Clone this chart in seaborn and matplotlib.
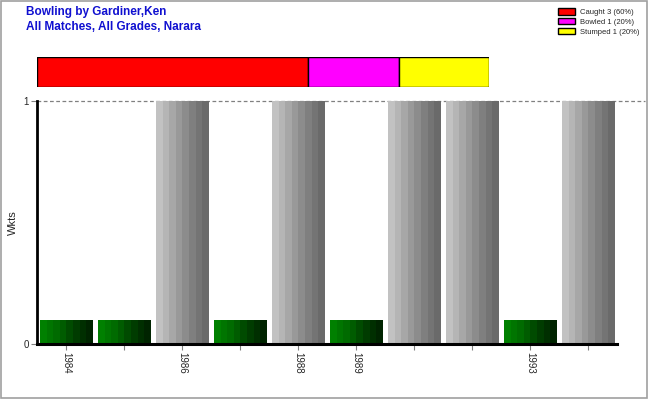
import matplotlib
matplotlib.use("Agg")
import matplotlib.pyplot as plt
import numpy as np
import pandas as pd
import seaborn as sns
from matplotlib.colors import LinearSegmentedColormap
from matplotlib.patches import Rectangle

# data
seasons = ["1984", "1985", "1986", "1987", "1988", "1989", "1990", "1991", "1993", "1994"]
tick_labels = ["1984", "", "1986", "", "1988", "1989", "", "", "1993", ""]
wkts = [0.1, 0.1, 1, 0.1, 1, 0.1, 1, 1, 0.1, 1]
dismissal_types = ["Caught", "Bowled", "Stumped"]
dismissal_counts = [3, 1, 1]
dismissal_colors = ["#ff0000", "#ff00ff", "#ffff00"]

sns.set_theme(style="white")
plt.rcParams["font.family"] = ["Liberation Sans", "DejaVu Sans"]

fig = plt.figure(figsize=(6.5, 4), dpi=100)
fig.patch.set_facecolor("white")
fig.add_artist(Rectangle((0.002, 0.004), 0.994, 0.994, transform=fig.transFigure,
                         fill=False, edgecolor="#a0a0a0", linewidth=1.2))

fig.text(26 / 650, 1 - 12 / 400, "Bowling by Gardiner,Ken", color="#1010d0",
         fontsize=8.5, fontweight="bold", va="center", ha="left")
fig.text(26 / 650, 1 - 27 / 400, "All Matches, All Grades, Narara", color="#1010d0",
         fontsize=8.5, fontweight="bold", va="center", ha="left")

# main bar chart
ax = fig.add_axes([37 / 650, 56 / 400, 580 / 650, 243 / 400])
df = pd.DataFrame({"season": seasons, "wkts": wkts})
sns.barplot(data=df, x="season", y="wkts", ax=ax, width=0.9, color="white",
            edgecolor="none", linewidth=0)

green_cmap = LinearSegmentedColormap.from_list("g", ["#008000", "#006800", "#004000", "#002400"])
grey_cmap = LinearSegmentedColormap.from_list("k", ["#c2c2c2", "#ababab", "#939393", "#7c7c7c", "#6a6a6a"])
grad = np.linspace(0, 1, 8).reshape(1, -1)
for patch, v in zip(ax.patches, wkts):
    x0, y0 = patch.get_x(), patch.get_y()
    w, h = patch.get_width(), patch.get_height()
    cmap = grey_cmap if v >= 1 else green_cmap
    im = ax.imshow(grad, cmap=cmap, aspect="auto", extent=(x0, x0 + w, y0, y0 + h),
                   interpolation="nearest", zorder=2)
    im.set_clip_path(patch)
ax.set_xlim(-0.5, len(seasons) - 0.5)
ax.set_ylim(0, 1)

ax.axhline(1, xmin=0, xmax=608 / 580, color="#808080", linestyle=(0, (3, 2)),
           linewidth=0.9, clip_on=False, zorder=1)
ax.axhline(0, color="#c8c8c8", linestyle=(0, (3, 2)), linewidth=0.8, zorder=1)

for side in ["top", "right"]:
    ax.spines[side].set_visible(False)
ax.spines["left"].set_linewidth(2)
ax.spines["bottom"].set_linewidth(2.2)
ax.spines["left"].set_color("black")
ax.spines["bottom"].set_color("black")

ax.set_yticks([0, 1])
ax.set_yticklabels(["0", "1"], fontsize=7)
ax.set_xticks(range(len(seasons)))
ax.set_xticklabels(tick_labels, rotation=-90, fontsize=7)
ax.tick_params(axis="both", length=4, width=0.8, color="#808080", direction="out",
               bottom=True, left=True, pad=2)
ax.set_xlabel("")
ax.set_ylabel("Wkts", fontsize=8)
ax.yaxis.set_label_coords(-19 / 580, 0.5)

# dismissal breakdown bar
bx = fig.add_axes([37 / 650, 1 - 87 / 400, 452 / 650, 30 / 400])
lefts = np.concatenate([[0], np.cumsum(dismissal_counts)[:-1]])
total = sum(dismissal_counts)
labels = [f"{t} {c} ({c / total:.0%})" for t, c in zip(dismissal_types, dismissal_counts)]
for lft, c, col, lab in zip(lefts, dismissal_counts, dismissal_colors, labels):
    bx.barh(0, c, left=lft, color=col, edgecolor="black", linewidth=1, height=1, label=lab)
bx.set_xlim(0, total)
bx.set_ylim(-0.5, 0.5)
bx.axis("off")

handles, leg_labels = bx.get_legend_handles_labels()
fig.legend(handles, leg_labels, loc="upper left", bbox_to_anchor=(553 / 650, 1 - 3 / 400),
           frameon=False, fontsize=5.5, handlelength=2.2, handleheight=0.9,
           handletextpad=0.6, labelspacing=0.25, borderpad=0.2)

fig.savefig("out.png", dpi=100)
